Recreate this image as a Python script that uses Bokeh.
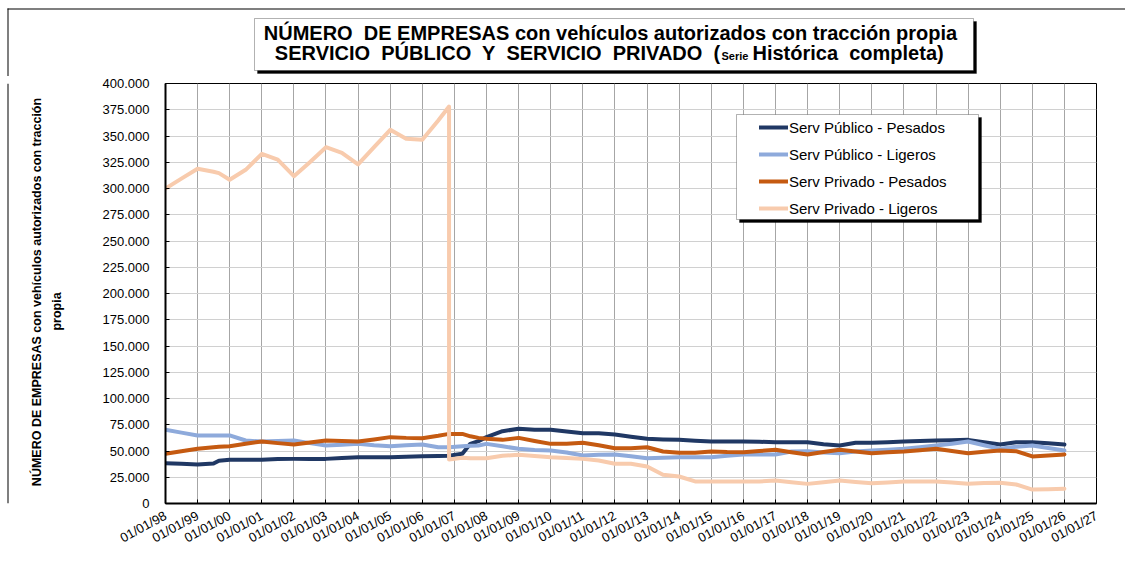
import math
import datetime as dt
from bokeh.plotting import figure
from bokeh.layouts import column, row
from bokeh.models import (Range1d, FixedTicker, DatetimeTickFormatter, CustomJSTickFormatter,
                          BoxAnnotation, Label, Legend, LegendItem)
from bokeh.embed import file_html
from bokeh.resources import INLINE

# ---------------- data ----------------
dates = ["1998-01-01", "1998-07-01", "1999-01-01", "1999-07-01", "1999-09-01", "2000-01-01",
         "2000-07-01", "2001-01-01", "2001-07-01", "2002-01-01", "2002-07-01", "2003-01-01",
         "2003-07-01", "2004-01-01", "2004-07-01", "2005-01-01", "2005-07-01", "2006-01-01",
         "2006-07-01", "2006-11-01", "2006-11-01", "2007-04-01", "2007-07-01", "2007-10-01",
         "2008-01-01", "2008-07-01", "2009-01-01", "2009-07-01", "2010-01-01", "2010-07-01",
         "2011-01-01", "2011-07-01", "2012-01-01", "2012-07-01", "2013-01-01", "2013-07-01",
         "2014-01-01", "2014-07-01", "2015-01-01", "2015-07-01", "2016-01-01", "2016-07-01",
         "2017-01-01", "2017-07-01", "2018-01-01", "2018-07-01", "2019-01-01", "2019-07-01",
         "2020-01-01", "2020-07-01", "2021-01-01", "2021-07-01", "2022-01-01", "2022-07-01",
         "2023-01-01", "2023-07-01", "2024-01-01", "2024-07-01", "2025-01-01", "2025-07-01",
         "2026-01-01"]

pub_pesados = [38400, 37800, 37100, 38000, 40800, 41600, 41600, 41600, 42300, 42500, 42500, 42500,
               43300, 44100, 44100, 44100, 44500, 45100, 45300, 45400, 45400, 47300, 56800, 59400,
               63200, 68900, 71100, 70200, 70200, 68500, 67000, 67000, 65700, 63500, 61600, 61000,
               60600, 59800, 59000, 59000, 59000, 58800, 58400, 58400, 58400, 56500, 55200, 57800,
               57800, 58400, 59000, 59500, 60000, 60300, 60600, 58400, 56200, 58400, 58400, 57300,
               56200]

pub_ligeros = [70200, 67500, 64800, 64800, 64800, 64800, 60000, 59000, 59500, 60000, 57500, 55200,
               56000, 56800, 55500, 54600, 55500, 56200, 53600, 53600, 53600, 54600, 55000, 55200,
               56800, 54500, 52100, 51000, 50500, 48500, 45700, 46500, 46700, 45000, 43200, 43500,
               44100, 44100, 44100, 45500, 46700, 46700, 46700, 49500, 49800, 48500, 47900, 49500,
               50500, 51300, 52100, 53500, 55200, 57000, 59000, 55500, 52100, 54000, 55200, 52800,
               50500]

priv_pesados = [47300, 49700, 52100, 53500, 54000, 54600, 57000, 59000, 57500, 56200, 58000, 60000,
                59500, 59000, 61000, 63200, 62500, 62200, 64500, 66300, 66300, 66300, 64000, 62500,
                61600, 60600, 62500, 59500, 56800, 56800, 57800, 55500, 52700, 52700, 53600, 49500,
                48300, 48300, 49500, 49000, 48900, 50000, 51100, 48900, 46700, 49000, 51100, 49500,
                47900, 48700, 49500, 50800, 52100, 50000, 47900, 49200, 50500, 49800, 44800, 45800,
                46700]

priv_ligeros = [300000, 309400, 318800, 316000, 314600, 308300, 317800, 333000, 327600, 311700,
                325000, 339300, 334000, 322900, 339300, 355900, 347300, 346400, 364800, 378100,
                42000, 43500, 43100, 43100, 43100, 45400, 46400, 45300, 44100, 43300, 42500, 40900,
                37800, 37800, 35200, 27300, 25700, 21000, 21000, 21000, 21000, 21000, 21900, 20300,
                18700, 20300, 21900, 20500, 19300, 20000, 21000, 21000, 21000, 20000, 18700, 19500,
                19700, 18100, 13300, 13600, 14000]

series_names = ["Serv Público - Pesados", "Serv Público - Ligeros",
                "Serv Privado - Pesados", "Serv Privado - Ligeros"]
series_colors = ["#203864", "#8eaadb", "#c55a11", "#f8cbad"]

tick_years = [1998, 1999, 2000, 2001, 2002, 2003, 2004, 2005, 2006, 2007, 2008, 2009, 2010,
              2011, 2012, 2013, 2014, 2015, 2016, 2017, 2018, 2019, 2020, 2021, 2022, 2023,
              2024, 2025, 2026, 2027]
y_ticks = [0, 25000, 50000, 75000, 100000, 125000, 150000, 175000, 200000, 225000, 250000,
           275000, 300000, 325000, 350000, 375000, 400000]

NB = "\u00a0 "   # a wide (double) gap that SVG does not collapse
title_line1 = "NÚMERO" + NB + "DE EMPRESAS con vehículos autorizados con tracción propia"
title_line2a = "SERVICIO" + NB + "PÚBLICO" + NB + "Y" + NB + "SERVICIO" + NB + "PRIVADO" + NB + "("
title_line2b = "Serie"
title_line2c = "Histórica" + NB + "completa)"
ytitle_1 = "NÚMERO DE EMPRESAS con vehículos autorizados con tracción"
ytitle_2 = "propia"

FONT = "Liberation Sans"
W, H = 1125, 578
TOP_H = 76          # height of the title strip
LEFT_W = 95         # width of the y-title strip
FR_TOP, FR_BOT = 83, 503   # plot frame top / bottom (page px)


def blank_fig(width, height, **kw):
    f = figure(width=width, height=height, x_range=Range1d(0, 1), y_range=Range1d(0, 1),
               x_axis_location=None, y_axis_location=None, output_backend="svg",
               toolbar_location=None, title=None, **kw)
    f.outline_line_color = None
    f.xgrid.visible = False
    f.ygrid.visible = False
    f.background_fill_color = "white"
    f.border_fill_color = "white"
    return f


def box(fig, l, r, t, b, fill, line=True):
    fig.add_layout(BoxAnnotation(left=l, right=r, top=t, bottom=b,
                                 left_units="screen", right_units="screen",
                                 top_units="screen", bottom_units="screen",
                                 fill_color=fill, fill_alpha=1.0,
                                 line_color="black" if line else None, line_width=1))


def lab(fig, text, x, y, size, align="left", angle=0.0):
    fig.add_layout(Label(x=x, y=y, x_units="screen", y_units="screen", text=text,
                         text_font=FONT, text_font_style="bold", text_font_size=size,
                         text_align=align, text_baseline="middle", angle=angle,
                         text_color="black"))


# ---------------- title strip (frame = whole strip, y measured from its bottom) ----------------
top = blank_fig(W, TOP_H, min_border=0)
box(top, 7, W, TOP_H - 8, TOP_H - 9, "black", line=False)     # outer chart border: top
box(top, 7, 8, TOP_H - 8, 0, "black", line=False)             # outer chart border: left
box(top, 257, 976, TOP_H - 21, TOP_H - 73, "black")            # title shadow
box(top, 254, 973, TOP_H - 18, TOP_H - 70, "white")            # title box
lab(top, title_line1, 610, TOP_H - 32.4, "20px", align="center")
lab(top, title_line2a, 720, TOP_H - 52.4, "20px", align="right")
lab(top, title_line2b, 721, TOP_H - 55.5, "11px", align="left")
lab(top, title_line2c, 752, TOP_H - 52.4, "20px", align="left")

# ---------------- y-title strip (frame aligned with the plot frame) ----------------
left = blank_fig(LEFT_W, H - TOP_H, min_border_left=0, min_border_right=0,
                 min_border_top=FR_TOP - TOP_H, min_border_bottom=H - FR_BOT)
box(left, 7, 8, FR_BOT - FR_TOP, 0, "black", line=False)       # outer chart border: left
lab(left, ytitle_1, 36, FR_BOT - 291.5, "12.5px", align="center", angle=math.pi / 2)
lab(left, ytitle_2, 56, FR_BOT - 311, "12.5px", align="center", angle=math.pi / 2)

# ---------------- main chart ----------------
EPOCH = dt.datetime(1970, 1, 1)
x = [dt.datetime.strptime(d, "%Y-%m-%d") for d in dates]
tick_ms = [(dt.datetime(y, 1, 1) - EPOCH).total_seconds() * 1000 for y in tick_years]

p = figure(width=W - LEFT_W, height=H - TOP_H, x_axis_type="datetime",
           x_range=Range1d(dt.datetime(tick_years[0], 1, 1), dt.datetime(tick_years[-1], 1, 1)),
           y_range=Range1d(y_ticks[0], y_ticks[-1]),
           output_backend="svg", toolbar_location=None, title=None,
           min_border_left=165 - LEFT_W, min_border_right=29, min_border_top=FR_TOP - TOP_H,
           min_border_bottom=H - FR_BOT)
p.background_fill_color = "white"
p.border_fill_color = "white"
p.outline_line_color = "black"
p.outline_line_width = 1

p.xaxis.ticker = FixedTicker(ticks=tick_ms)
p.xaxis.formatter = DatetimeTickFormatter(
    years="%d/%m/%y", months="%d/%m/%y", days="%d/%m/%y", hours="%d/%m/%y",
    minutes="%d/%m/%y", seconds="%d/%m/%y", milliseconds="%d/%m/%y", microseconds="%d/%m/%y")
p.xaxis.major_label_orientation = 0.5
p.yaxis.ticker = FixedTicker(ticks=y_ticks)
p.yaxis.formatter = CustomJSTickFormatter(
    code="return Math.round(tick).toString().replace(/\\B(?=(\\d{3})+(?!\\d))/g, '.');")
for ax in (p.xaxis, p.yaxis):
    ax.axis_line_color = "black"
    ax.axis_line_width = 2
    ax.major_tick_line_color = "black"
    ax.major_tick_line_width = 1
    ax.major_tick_in = 4
    ax.major_tick_out = 0
    ax.minor_tick_line_color = None
    ax.major_label_text_font = FONT
    ax.major_label_text_font_size = "13px"
    ax.major_label_text_color = "black"
p.yaxis.major_label_standoff = 16
p.xaxis.major_label_standoff = 11

p.xgrid.grid_line_color = "#a6a6a6"
p.xgrid.grid_line_width = 1
p.ygrid.grid_line_color = "#d0d0d0"
p.ygrid.grid_line_width = 1

# legend box (shadow + box), drawn before legend
box(p, 574, 816, 386, 281, "black")
box(p, 571, 813, 389, 284, "white")

renderers = []
for vals, col in zip([pub_pesados, pub_ligeros, priv_pesados, priv_ligeros], series_colors):
    r = p.line(x, vals, line_color=col, line_width=4, line_join="round", line_cap="round")
    renderers.append(r)

legend = Legend(items=[LegendItem(label=n, renderers=[r]) for n, r in zip(series_names, renderers)],
                location=(594, 285), orientation="vertical", padding=0, margin=0, spacing=7,
                glyph_width=29, glyph_height=20, label_height=20, label_standoff=1,
                label_text_font=FONT, label_text_font_size="15px", label_text_color="black",
                border_line_alpha=0, background_fill_alpha=0)
p.add_layout(legend, "center")

page = column(top, row(left, p))
open("out.html", "w").write(file_html(page, INLINE))
